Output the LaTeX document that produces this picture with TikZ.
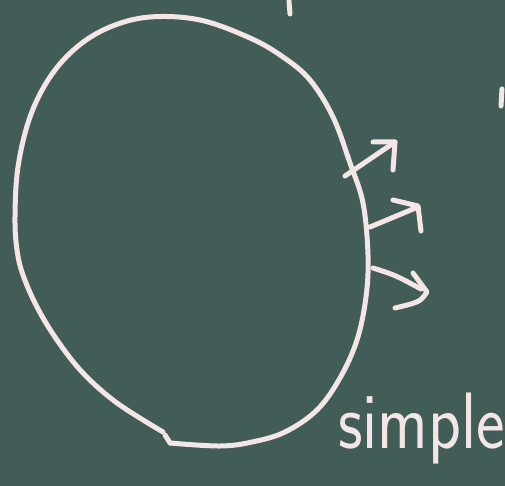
\documentclass[tikz,border=0pt]{standalone}
\definecolor{board}{RGB}{66,92,87}
\definecolor{chalk}{RGB}{244,230,230}
\begin{document}
\begin{tikzpicture}[x=1pt,y=-1pt,
  chalkline/.style={draw=chalk,line width=5pt,line cap=round,line join=round},
  chalktext/.style={text=chalk,font=\sffamily\fontsize{80}{80}\selectfont,inner sep=0pt}]
\fill[board] (0,0) rectangle (505,486);
\useasboundingbox (0,0) rectangle (505,486);
% closed curve (with small break at the bottom)
\draw[chalkline] plot[smooth,tension=0.6] coordinates {
 (170,443) (220,446) (252,442) (285,432) (317,410) (340,378) (357,340)
 (366,297) (368,255) (363,203) (350,163) (333,117) (310,80) (283,57)
 (250,38) (200,20) (150,17) (110,27) (77,47) (50,77) (30,117) (18,167)
 (15,217) (17,250) (23,275) (37,307) (57,340) (83,373) (117,403) (163,432)};
\draw[chalkline] (165,435) -- (170,443);
% outward arrows
\draw[chalkline] (345,176) -- (395,142);
\draw[chalkline] (373,142) -- (395,142) -- (393,170);
\draw[chalkline] (370,227) -- (418,207);
\draw[chalkline] (393,200) -- (418,206) -- (421,231);
\draw[chalkline] (373,268) .. controls (395,275) .. (421,289);
\draw[chalkline] (413,273) -- (427,292) .. controls (420,302) .. (395,308);
% stray marks
\draw[chalkline] (289,1) -- (290,14);
\draw[chalkline] (502,89) -- (501,106);
% label
\node[chalktext,xscale=0.85,anchor=base west] (lbl) at (338,448) {simple};
\end{tikzpicture}
\end{document}
